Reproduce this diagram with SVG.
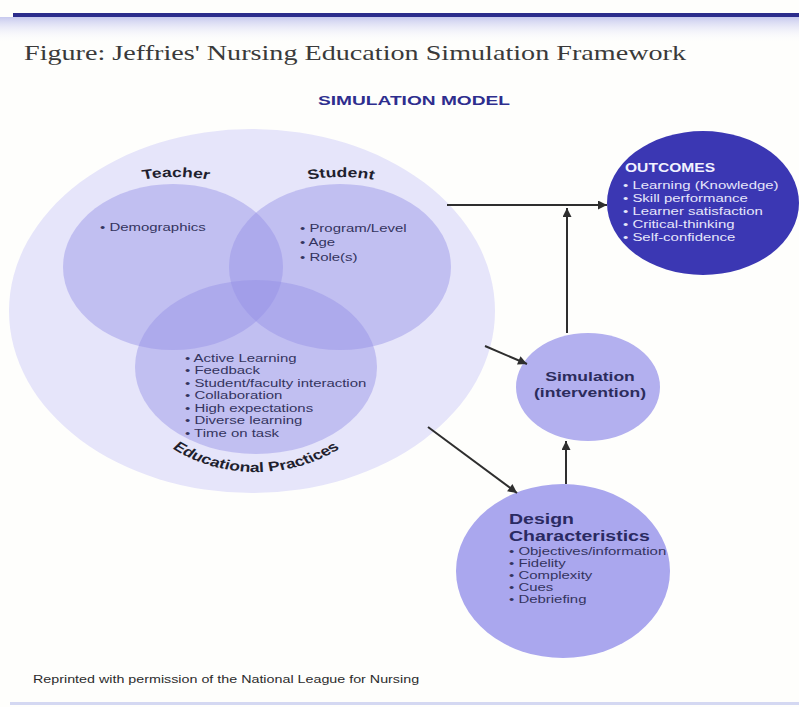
<svg xmlns="http://www.w3.org/2000/svg" width="799" height="707" viewBox="0 0 799 707">
  <defs>
    <linearGradient id="band" x1="0" y1="0" x2="0" y2="1">
      <stop offset="0" stop-color="#c7c9ee"/>
      <stop offset="1" stop-color="#ffffff" stop-opacity="0"/>
    </linearGradient>
    <marker id="head" viewBox="0 0 10 10" refX="10" refY="5" markerWidth="5" markerHeight="4.5" orient="auto" markerUnits="strokeWidth">
      <path d="M0,0 L10,5 L0,10 z" fill="#2e2e2e"/>
    </marker>
    <!-- arcs for curved labels, in the local (x-scaled) coordinates of each label group -->
    <path id="arcTop" d="M-60,193 A120,120 0 0 1 60,193"/>
    <path id="arcBottom" d="M-104,362 A104,110 0 0 0 104,362"/>
  </defs>
  <style>
    .sans { font-family: "Liberation Sans", Arial, Helvetica, sans-serif; }
    .serif { font-family: "Liberation Serif", "Times New Roman", serif; }
    .venn { fill: #9490e6; fill-opacity: 0.45; }
    .head { font-weight: bold; font-size: 13.5px; fill: #1f1f2e; }
    .item { font-size: 11.5px; fill: #34345e; }
    .out { font-size: 11.5px; fill: #e6e6fb; }
    .conn { stroke: #2e2e2e; stroke-width: 2; fill: none; marker-end: url(#head); }
  </style>

  <rect width="799" height="707" fill="#fefefc"/>

  <!-- header rule and title -->
  <rect x="0" y="17" width="799" height="26" fill="url(#band)"/>
  <rect x="13" y="13" width="786" height="4" fill="#2c2d8c"/>
  <text class="serif" x="24" y="60" font-size="22" fill="#3a3a3a" textLength="662" lengthAdjust="spacingAndGlyphs">Figure: Jeffries' Nursing Education Simulation Framework</text>
  <text class="sans" x="414" y="105" text-anchor="middle" font-weight="bold" font-size="12" fill="#2e2e8e" textLength="192" lengthAdjust="spacingAndGlyphs">SIMULATION MODEL</text>

  <g class="sans">
    <!-- simulation model: teacher / student / educational practices -->
    <g id="model">
      <ellipse cx="252" cy="311" rx="243" ry="182" fill="#e6e5fa"/>
      <g id="teacher">
        <ellipse class="venn" cx="173" cy="267" rx="110" ry="83"/>
        <g transform="translate(176,0) scale(1.3,1)">
          <text class="head"><textPath href="#arcTop" startOffset="50%" text-anchor="middle">Teacher</textPath></text>
        </g>
        <g transform="translate(100,231) scale(1.3,1)">
          <text class="item">• Demographics</text>
        </g>
      </g>
      <g id="student">
        <ellipse class="venn" cx="340" cy="267" rx="111" ry="83"/>
        <g transform="translate(341,0) scale(1.3,1)">
          <text class="head"><textPath href="#arcTop" startOffset="50%" text-anchor="middle">Student</textPath></text>
        </g>
        <g transform="translate(300,232) scale(1.3,1)">
          <text class="item"><tspan x="0" y="0">• Program/Level</tspan><tspan x="0" dy="14.5">• Age</tspan><tspan x="0" dy="14.5">• Role(s)</tspan></text>
        </g>
      </g>
      <g id="practices">
        <ellipse class="venn" cx="256" cy="367" rx="121" ry="87"/>
        <g transform="translate(185,362) scale(1.3,1)">
          <text class="item"><tspan x="0" y="0">• Active Learning</tspan><tspan x="0" dy="12.5">• Feedback</tspan><tspan x="0" dy="12.5">• Student/faculty interaction</tspan><tspan x="0" dy="12.5">• Collaboration</tspan><tspan x="0" dy="12.5">• High expectations</tspan><tspan x="0" dy="12.5">• Diverse learning</tspan><tspan x="0" dy="12.5">• Time on task</tspan></text>
        </g>
        <g transform="translate(256,0) scale(1.3,1)">
          <text class="head"><textPath href="#arcBottom" startOffset="50%" text-anchor="middle">Educational Practices</textPath></text>
        </g>
      </g>
    </g>

    <!-- outcomes -->
    <g id="outcomes">
      <ellipse cx="703" cy="203" rx="96" ry="72" fill="#3b37b3"/>
      <g transform="translate(625,172) scale(1.3,1)">
        <text font-weight="bold" font-size="12" fill="#f2f2ff">OUTCOMES</text>
      </g>
      <g transform="translate(623,189) scale(1.3,1)">
        <text class="out"><tspan x="0" y="0">• Learning (Knowledge)</tspan><tspan x="0" dy="13">• Skill performance</tspan><tspan x="0" dy="13">• Learner satisfaction</tspan><tspan x="0" dy="13">• Critical-thinking</tspan><tspan x="0" dy="13">• Self-confidence</tspan></text>
      </g>
    </g>

    <!-- simulation (intervention) -->
    <g id="simulation">
      <ellipse cx="588" cy="387" rx="72" ry="54" fill="#b3b0ef"/>
      <g transform="translate(590,0) scale(1.3,1)">
        <text font-weight="bold" font-size="13.5" fill="#2c2c5c" text-anchor="middle"><tspan x="0" y="381">Simulation</tspan><tspan x="0" y="397">(intervention)</tspan></text>
      </g>
    </g>

    <!-- design characteristics -->
    <g id="design">
      <ellipse cx="563" cy="571" rx="107" ry="87" fill="#aaa7ee"/>
      <g transform="translate(509,0) scale(1.3,1)">
        <text font-weight="bold" font-size="15" fill="#2a2a62"><tspan x="0" y="524">Design</tspan><tspan x="0" y="541">Characteristics</tspan></text>
        <text class="item"><tspan x="0" y="555">• Objectives/information</tspan><tspan x="0" y="567">• Fidelity</tspan><tspan x="0" y="579">• Complexity</tspan><tspan x="0" y="591">• Cues</tspan><tspan x="0" y="603">• Debriefing</tspan></text>
      </g>
    </g>

    <!-- connectors -->
    <g id="connectors">
      <path class="conn" d="M447,205 L607,205"/>
      <path class="conn" d="M567,333 L567,208"/>
      <path class="conn" d="M485,346 L527,364"/>
      <path class="conn" d="M428,427 L517,493"/>
      <path class="conn" d="M566,484 L566,441"/>
    </g>

    <!-- footer -->
    <g transform="translate(33,683) scale(1.3,1)">
      <text font-size="11" fill="#2c2c2c">Reprinted with permission of the National League for Nursing</text>
    </g>
  </g>
  <rect x="10" y="702" width="789" height="3" fill="#d4d8f2"/>
</svg>
